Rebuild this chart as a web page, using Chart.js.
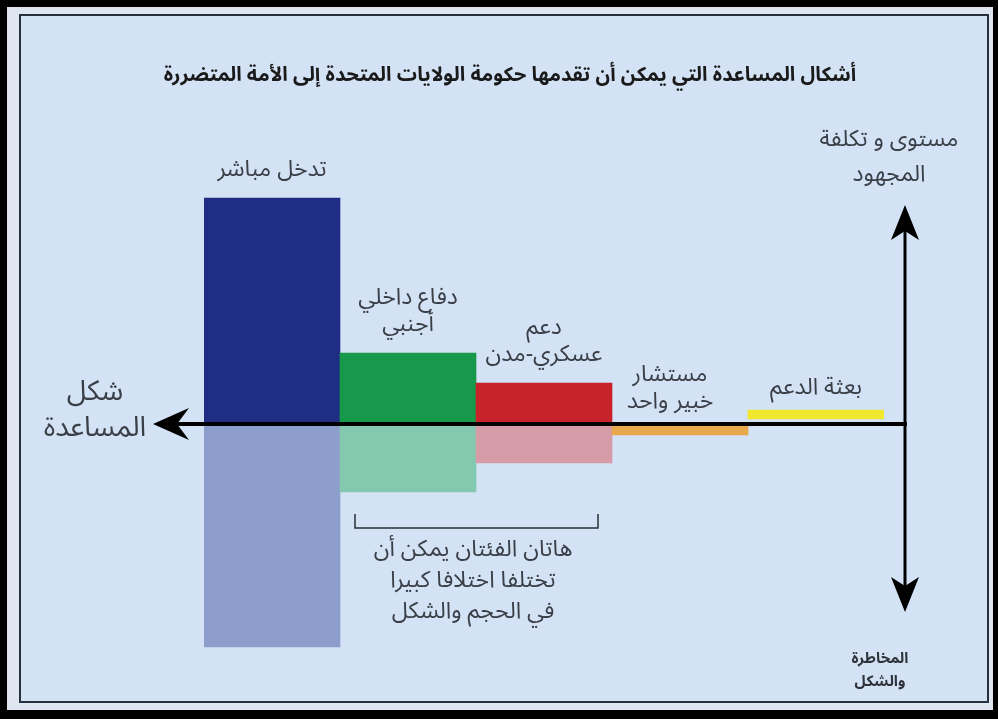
<!DOCTYPE html>
<html lang="ar">
<head>
<meta charset="utf-8">
<script src="https://cdn.jsdelivr.net/npm/chart.js@4"></script>
<style>
  html, body { margin: 0; padding: 0; background: #000; width: 998px; height: 719px; overflow: hidden; }
  #band { position: absolute; left: 7px; top: 7px; width: 986px; height: 703px; background: #dfe6ef; }
  #panel { position: absolute; left: 19px; top: 14px; width: 966px; height: 685px; border: 2px solid #27313d; background: #d3e2f5; }
  #wrap { position: absolute; left: 0; top: 0; width: 998px; height: 719px; }
</style>
</head>
<body>
<div id="band"></div>
<div id="panel"></div>
<div id="wrap"><canvas id="aid-chart" width="998" height="719"></canvas></div>
<script>
// الفئات (من اليسار الى اليمين)
var categories = ['تدخل مباشر', 'دفاع داخلي أجنبي', 'دعم عسكري-مدن', 'مستشار خبير واحد', 'بعثة الدعم'];
var categoryLines = [['تدخل مباشر'], ['دفاع داخلي', 'أجنبي'], ['دعم', 'عسكري-مدن'], ['مستشار', 'خبير واحد'], ['بعثة الدعم']];

// مستوى و تكلفة المجهود (فوق المحور)
var effortValues = [[0, 226], [0, 71], [0, 41], null, [5, 14]];
// المخاطرة والشكل (تحت المحور)
var riskValues = [[0, -223], [0, -68], [0, -39], [-2, -11], null];

var effortColors = ['#202d85', '#16994a', '#c8232b', '#e9a84c', '#f1e72c'];
var riskColors = ['#8e9ecc', '#82c9b0', '#d59ca8', '#e9a84c', '#f1e72c'];

var titleText = 'أشكال المساعدة التي يمكن أن تقدمها حكومة الولايات المتحدة إلى الأمة المتضررة';
var upLabel = ['مستوى و تكلفة', 'المجهود'];
var downLabel = ['المخاطرة', 'والشكل'];
var leftLabel = ['شكل', 'المساعدة'];
var noteLines = ['هاتان الفئتان يمكن أن', 'تختلفا اختلافا كبيرا', 'في الحجم والشكل'];

var FONT = '"Noto Sans Arabic", "DejaVu Sans", sans-serif';

function drawLines(ctx, lines, x, y, step) {
    lines.forEach(function(t, i) { ctx.fillText(t, x, y + i * step); });
}

// رسم المحاور والنصوص
var decorPlugin = {
    id: 'decor',
    afterDatasetsDraw: function(chart) {
        var ctx = chart.ctx;
        var xs = chart.scales.x, ys = chart.scales.y;
        var area = chart.chartArea;
        var y0 = ys.getPixelForValue(0);
        var vx = area.right + 21;
        ctx.save();
        ctx.direction = 'rtl';
        ctx.textAlign = 'center';

        // العنوان
        ctx.fillStyle = '#1a1a1a';
        ctx.font = 'bold 20px ' + FONT;
        ctx.textBaseline = 'middle';
        ctx.fillText(titleText, 510, 78);

        // المحور الأفقي
        ctx.fillStyle = '#000';
        ctx.fillRect(172, y0 - 2, vx - 172 + 2, 4);
        ctx.beginPath();
        ctx.moveTo(153, y0);
        ctx.lineTo(189, y0 - 16);
        ctx.lineTo(177, y0);
        ctx.lineTo(189, y0 + 16);
        ctx.closePath();
        ctx.fill();

        // المحور العمودي
        ctx.fillRect(vx - 1.5, 228, 3, 372);
        ctx.beginPath();
        ctx.moveTo(vx, 205);
        ctx.lineTo(vx + 14, 240);
        ctx.lineTo(vx, 231);
        ctx.lineTo(vx - 14, 240);
        ctx.closePath();
        ctx.fill();
        ctx.beginPath();
        ctx.moveTo(vx, 612);
        ctx.lineTo(vx + 14, 577);
        ctx.lineTo(vx, 586);
        ctx.lineTo(vx - 14, 577);
        ctx.closePath();
        ctx.fill();

        // تسميات الفئات
        ctx.fillStyle = '#3a3f47';
        ctx.font = '23px ' + FONT;
        ctx.textBaseline = 'bottom';
        categoryLines.forEach(function(lines, i) {
            var top = 0;
            if (effortValues[i]) top = effortValues[i][1];
            var x = xs.getPixelForValue(i);
            var gap = (i === 3 || i === 4) ? 8 : 14;
            var yb = ys.getPixelForValue(top) - gap - (lines.length - 1) * 27;
            if (i === 3) x -= 10;
            drawLines(ctx, lines, x, yb, 27);
        });

        // شكل المساعدة
        ctx.font = '28px ' + FONT;
        ctx.textBaseline = 'middle';
        drawLines(ctx, leftLabel, 95, y0 - 28, 36);

        // مستوى و تكلفة المجهود
        ctx.font = '23px ' + FONT;
        drawLines(ctx, upLabel, 889, 143, 35);

        // المخاطرة والشكل
        ctx.fillStyle = '#2f343b';
        ctx.font = 'bold 15px ' + FONT;
        drawLines(ctx, downLabel, 880, 661, 23);

        // القوس تحت الفئتين
        var bx1 = xs.getPixelForValue(1) - 53, bx2 = xs.getPixelForValue(2) + 54;
        ctx.strokeStyle = '#2a2f36';
        ctx.lineWidth = 1.5;
        ctx.beginPath();
        ctx.moveTo(bx1, 514);
        ctx.lineTo(bx1, 528);
        ctx.lineTo(bx2, 528);
        ctx.lineTo(bx2, 514);
        ctx.stroke();

        ctx.fillStyle = '#3a3f47';
        ctx.font = '23px ' + FONT;
        drawLines(ctx, noteLines, 473, 553, 31);
        ctx.restore();
    }
};

var ctx = document.getElementById('aid-chart').getContext('2d');
var chart = new Chart(ctx, {
    type: 'bar',
    data: {
        labels: categories,
        datasets: [{
            label: 'المجهود',
            data: effortValues,
            backgroundColor: effortColors,
            grouped: false,
            barPercentage: 1,
            categoryPercentage: 1,
            borderWidth: 0
        }, {
            label: 'المخاطرة',
            data: riskValues,
            backgroundColor: riskColors,
            grouped: false,
            barPercentage: 1,
            categoryPercentage: 1,
            borderWidth: 0
        }]
    },
    options: {
        responsive: false,
        animation: false,
        layout: { padding: { left: 204, right: 114, top: 160, bottom: 31 } },
        plugins: { legend: { display: false }, tooltip: { enabled: false } },
        scales: {
            x: { display: false },
            y: { display: false, min: -264, max: 264 }
        }
    },
    plugins: [decorPlugin]
});
</script>
</body>
</html>
